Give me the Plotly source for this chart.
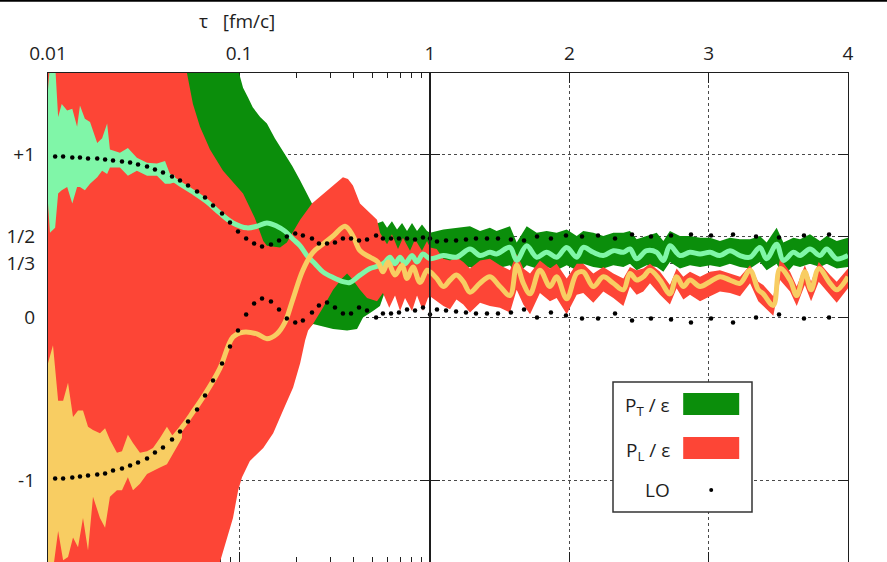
import plotly.graph_objects as go

# ---------------- P_T / eps ----------------
# central curve, tau < 1 fm/c (log panel)
TAU_PT_EARLY = [0.0100, 0.0116, 0.0139, 0.0166, 0.0199, 0.0238, 0.0286, 0.0342, 0.0410, 0.0491,
                0.0574, 0.0680, 0.0795, 0.0930, 0.110, 0.124, 0.140, 0.158, 0.174, 0.192,
                0.209, 0.227, 0.250, 0.275, 0.311, 0.350, 0.381, 0.430, 0.485, 0.547,
                0.581, 0.617, 0.656, 0.697, 0.740, 0.805, 0.855, 0.919]
PT_MID_EARLY = [1.00, 1.00, 1.01, 1.00, 0.98, 0.97, 0.95, 0.92, 0.88, 0.82,
                0.77, 0.71, 0.64, 0.58, 0.55, 0.56, 0.58, 0.56, 0.53, 0.48,
                0.44, 0.38, 0.33, 0.28, 0.245, 0.22, 0.215, 0.26, 0.30, 0.32,
                0.34, 0.37, 0.33, 0.37, 0.33, 0.38, 0.34, 0.39]

# tau >= 1 fm/c (linear panel): central curve and band edges
TAU_PT_LATE = [1.0, 1.096, 1.19, 1.287, 1.359, 1.43, 1.478, 1.574, 1.622, 1.694,
               1.766, 1.837, 1.909, 1.981, 2.053, 2.10, 2.172, 2.244, 2.316, 2.388,
               2.435, 2.483, 2.555, 2.627, 2.675, 2.722, 2.794, 2.866, 2.938, 3.01,
               3.081, 3.153, 3.225, 3.297, 3.368, 3.416, 3.488, 3.536, 3.608, 3.656,
               3.727, 3.799, 3.847, 3.919, 4.0]
PT_MID_LATE = [0.36, 0.38, 0.37, 0.42, 0.38, 0.40, 0.39, 0.43, 0.35, 0.44,
               0.37, 0.40, 0.37, 0.43, 0.37, 0.43, 0.40, 0.38, 0.41, 0.40,
               0.42, 0.36, 0.41, 0.40, 0.35, 0.44, 0.38, 0.40, 0.39, 0.40,
               0.38, 0.41, 0.38, 0.37, 0.43, 0.36, 0.45, 0.35, 0.40, 0.38,
               0.42, 0.38, 0.42, 0.36, 0.38]
PT_HI_LATE = [0.52, 0.54, 0.55, 0.56, 0.53, 0.55, 0.53, 0.56, 0.46, 0.56,
              0.52, 0.53, 0.52, 0.54, 0.50, 0.53, 0.52, 0.50, 0.52, 0.52,
              0.53, 0.48, 0.50, 0.52, 0.47, 0.53, 0.50, 0.50, 0.49, 0.49,
              0.47, 0.49, 0.48, 0.48, 0.50, 0.46, 0.55, 0.46, 0.49, 0.48,
              0.51, 0.47, 0.50, 0.47, 0.49]
PT_LO_LATE = [0.30, 0.31, 0.29, 0.31, 0.28, 0.30, 0.30, 0.32, 0.26, 0.32,
              0.30, 0.31, 0.29, 0.32, 0.29, 0.33, 0.31, 0.30, 0.32, 0.31,
              0.33, 0.29, 0.32, 0.31, 0.28, 0.34, 0.30, 0.32, 0.31, 0.32,
              0.31, 0.33, 0.31, 0.30, 0.34, 0.29, 0.33, 0.25, 0.32, 0.31,
              0.33, 0.31, 0.33, 0.30, 0.31]

# band edges for tau < 1
TAU_PT_HI_EARLY = [0.01, 0.099, 0.100, 0.105, 0.1115, 0.118, 0.129, 0.140, 0.154, 0.170,
                   0.190, 0.209, 0.224, 0.241, 0.282, 0.359, 0.457, 0.534, 0.567, 0.596,
                   0.632, 0.672, 0.714, 0.758, 0.805, 0.855, 0.908, 0.965]
PT_HI_EARLY = [1.6, 1.6, 1.50, 1.41, 1.35, 1.29, 1.23, 1.19, 1.10, 1.02,
               0.93, 0.84, 0.77, 0.70, 0.63, 0.57, 0.55, 0.58, 0.59, 0.55,
               0.59, 0.54, 0.58, 0.53, 0.58, 0.53, 0.57, 0.53]
TAU_PT_LO_EARLY = [0.01, 0.07, 0.099, 0.129, 0.170, 0.209, 0.244, 0.311, 0.368, 0.415,
                   0.446, 0.503, 0.547, 0.581, 0.656, 0.786, 0.942]
PT_LO_EARLY = [-1.6, -1.4, -0.95, -0.6, -0.35, -0.12, -0.04, -0.07, -0.08, -0.07,
               0.0, 0.04, 0.07, 0.16, 0.24, 0.28, 0.30]

# early-time fluctuations of the central curve
TAU_PT_NOISE = [0.0100, 0.01024, 0.0109, 0.0113, 0.0118, 0.0126, 0.0134, 0.0142, 0.0147, 0.0156,
                0.0166, 0.0181, 0.0192, 0.0204, 0.0211, 0.0238, 0.0262, 0.0292, 0.0330, 0.0372,
                0.0410, 0.0435, 0.0462]
PT_NOISE_HI = [1.40, 1.55, 1.55, 1.23, 1.31, 1.27, 1.28, 1.17, 1.30, 1.22,
               1.20, 1.07, 1.10, 1.19, 1.03, 1.01, 1.04, 0.98, 0.95, 0.945,
               0.96, 0.88, 0.87]
PT_NOISE_LO = [0.70, 0.52, 0.55, 0.76, 0.78, 0.80, 0.70, 0.80, 0.80, 0.78,
               0.82, 0.86, 0.90, 0.88, 0.92, 0.92, 0.87, 0.90, 0.87, 0.87,
               0.82, 0.82, 0.83]

# ---------------- P_L / eps ----------------
TAU_PL_EARLY = [0.0100, 0.0116, 0.0139, 0.0166, 0.0199, 0.0238, 0.0286, 0.0342, 0.0410, 0.0491,
                0.0574, 0.0680, 0.0795, 0.0930, 0.105, 0.124, 0.140, 0.158, 0.174, 0.190,
                0.216, 0.244, 0.275, 0.311, 0.359, 0.395, 0.430, 0.485, 0.534, 0.567,
                0.603, 0.656, 0.714, 0.758, 0.815, 0.886, 0.965]
PL_MID_EARLY = [-0.99, -0.98, -0.975, -0.963, -0.951, -0.926, -0.89, -0.847, -0.79, -0.69,
                -0.58, -0.45, -0.31, -0.12, -0.09, -0.10, -0.13, -0.10, -0.03, 0.10,
                0.29, 0.40, 0.45, 0.50, 0.56, 0.50, 0.41, 0.37, 0.34, 0.28,
                0.34, 0.26, 0.32, 0.24, 0.31, 0.215, 0.29]

TAU_PL_LATE = [1.0, 1.048, 1.096, 1.144, 1.19, 1.239, 1.287, 1.359, 1.43, 1.502,
               1.574, 1.622, 1.67, 1.718, 1.789, 1.861, 1.909, 1.981, 2.053, 2.10,
               2.172, 2.244, 2.316, 2.388, 2.435, 2.483, 2.531, 2.579, 2.651, 2.722,
               2.77, 2.818, 2.866, 2.938, 3.01, 3.081, 3.153, 3.225, 3.297, 3.356,
               3.392, 3.464, 3.512, 3.584, 3.632, 3.69, 3.735, 3.79, 3.871, 3.919, 4.0]
PL_MID_LATE = [0.28, 0.24, 0.19, 0.23, 0.26, 0.22, 0.155, 0.21, 0.25, 0.19,
               0.135, 0.32, 0.21, 0.145, 0.29, 0.19, 0.25, 0.115, 0.27, 0.28,
               0.19, 0.25, 0.21, 0.17, 0.27, 0.23, 0.25, 0.29, 0.23, 0.145,
               0.25, 0.19, 0.23, 0.19, 0.22, 0.25, 0.23, 0.21, 0.29, 0.17,
               0.145, 0.074, 0.30, 0.23, 0.135, 0.28, 0.17, 0.30, 0.21, 0.17, 0.25]
PL_HI_LATE = [0.43, 0.42, 0.36, 0.35, 0.37, 0.34, 0.30, 0.35, 0.36, 0.32,
              0.29, 0.39, 0.30, 0.27, 0.35, 0.30, 0.33, 0.24, 0.33, 0.33,
              0.27, 0.31, 0.27, 0.24, 0.31, 0.29, 0.30, 0.33, 0.28, 0.20,
              0.30, 0.25, 0.28, 0.25, 0.28, 0.29, 0.27, 0.25, 0.32, 0.22,
              0.20, 0.13, 0.36, 0.28, 0.19, 0.32, 0.22, 0.34, 0.26, 0.22, 0.30]
PL_LO_LATE = [0.13, 0.10, 0.07, 0.05, 0.11, 0.08, 0.03, 0.09, 0.07, 0.06,
              0.03, 0.17, 0.08, 0.02, 0.15, 0.10, 0.12, 0.02, 0.14, 0.15,
              0.09, 0.16, 0.12, 0.07, 0.19, 0.14, 0.16, 0.21, 0.14, 0.08,
              0.18, 0.11, 0.14, 0.10, 0.13, 0.16, 0.15, 0.13, 0.21, 0.10,
              0.07, 0.01, 0.23, 0.16, 0.07, 0.20, 0.10, 0.22, 0.14, 0.09, 0.18]

TAU_PL_HI_EARLY = [0.01, 0.0522, 0.0534, 0.0574, 0.0625, 0.0705, 0.0825, 0.101, 0.105, 0.121,
                   0.134, 0.140, 0.164, 0.178, 0.209, 0.241, 0.289, 0.350, 0.372, 0.395,
                   0.430, 0.485, 0.528, 0.547, 0.596, 0.632, 0.680, 0.722, 0.786, 0.835,
                   0.908, 0.965]
PL_HI_EARLY = [1.6, 1.6, 1.50, 1.31, 1.17, 1.03, 0.90, 0.78, 0.76, 0.61,
               0.47, 0.44, 0.43, 0.46, 0.60, 0.70, 0.78, 0.86, 0.85, 0.81,
               0.70, 0.64, 0.60, 0.52, 0.45, 0.51, 0.42, 0.49, 0.41, 0.48,
               0.41, 0.47]
TAU_PL_LO_EARLY = [0.01, 0.075, 0.0795, 0.0865, 0.093, 0.099, 0.1037, 0.114, 0.134, 0.151,
                   0.170, 0.192, 0.209, 0.222, 0.230, 0.244, 0.275, 0.311, 0.346, 0.368,
                   0.395, 0.430, 0.468, 0.528, 0.567, 0.612, 0.656, 0.697, 0.740, 0.805,
                   0.855, 0.919, 0.976]
PL_LO_EARLY = [-1.6, -1.6, -1.49, -1.35, -1.23, -1.06, -0.98, -0.88, -0.80, -0.71,
               -0.57, -0.43, -0.28, -0.14, -0.08, -0.04, 0.06, 0.17, 0.24, 0.27,
               0.23, 0.17, 0.12, 0.10, 0.15, 0.06, 0.135, 0.04, 0.12, 0.04,
               0.135, 0.04, 0.12]

TAU_PL_NOISE = [0.0100, 0.01062, 0.0113, 0.0120, 0.01273, 0.01352, 0.01436, 0.01525, 0.0162, 0.0172,
                0.01871, 0.0199, 0.0211, 0.02296, 0.0244, 0.0262, 0.02786, 0.0303, 0.0330, 0.03545,
                0.03857, 0.04195, 0.04514, 0.0503]
PL_NOISE_HI = [-0.28, -0.17, -0.51, -0.51, -0.40, -0.61, -0.57, -0.57, -0.67, -0.69,
               -0.71, -0.68, -0.75, -0.83, -0.82, -0.72, -0.77, -0.83, -0.82, -0.80,
               -0.74, -0.67, -0.73, -0.65]
PL_NOISE_LO = [-1.55, -1.55, -1.31, -1.49, -1.47, -1.35, -1.41, -1.23, -1.43, -1.10,
               -1.23, -1.29, -1.10, -1.06, -1.06, -0.98, -1.06, -1.02, -0.96, -0.94,
               -0.92, -0.90, -0.84, -0.74]

# ---------------- leading order (LO) ----------------
TAU_LO = [0.0109, 0.0120, 0.0134, 0.0147, 0.0162, 0.0181, 0.0199, 0.0219, 0.0244, 0.0269,
          0.0296, 0.0330, 0.0363, 0.0400, 0.0446, 0.0491, 0.0541, 0.0603, 0.0664, 0.0731,
          0.0815, 0.0897, 0.0988, 0.109, 0.120, 0.132, 0.147, 0.162, 0.178, 0.197,
          0.216, 0.241, 0.262, 0.289, 0.318, 0.350, 0.386, 0.425, 0.468, 0.522,
          0.567, 0.625, 0.688, 0.758, 0.835, 0.919, 1.0,
          1.050, 1.115, 1.187, 1.258, 1.330, 1.409, 1.488, 1.581, 1.675, 1.768,
          1.868, 1.976, 2.091, 2.206, 2.328, 2.450, 2.586, 2.730, 2.873, 3.017,
          3.175, 3.340, 3.505, 3.684, 3.864]
LO_T = [0.988, 0.988, 0.982, 0.982, 0.975, 0.975, 0.969, 0.963, 0.957, 0.951,
        0.939, 0.926, 0.908, 0.890, 0.865, 0.840, 0.810, 0.773, 0.736, 0.687,
        0.638, 0.583, 0.528, 0.485, 0.454, 0.436, 0.448, 0.472, 0.497, 0.515,
        0.503, 0.485, 0.454, 0.454, 0.460, 0.485, 0.485, 0.472, 0.479, 0.503,
        0.485, 0.485, 0.485, 0.485, 0.479, 0.491, 0.485,
        0.466, 0.472, 0.472, 0.479, 0.485, 0.485, 0.485, 0.479, 0.472, 0.497,
        0.485, 0.503, 0.497, 0.503, 0.485, 0.509, 0.497, 0.503, 0.509, 0.503,
        0.509, 0.497, 0.491, 0.503, 0.509]
LO_L = [-0.988, -0.988, -0.982, -0.975, -0.969, -0.963, -0.957, -0.939, -0.926, -0.908,
        -0.890, -0.865, -0.828, -0.798, -0.748, -0.699, -0.638, -0.564, -0.479, -0.387,
        -0.282, -0.178, -0.080, 0.018, 0.086, 0.117, 0.098, 0.049, -0.006, -0.031,
        -0.018, 0.031, 0.074, 0.092, 0.061, 0.025, 0.025, 0.061, 0.043, 0.000,
        0.025, 0.025, 0.031, 0.049, 0.043, 0.061, 0.018,
        0.049, 0.043, 0.037, 0.031, 0.025, 0.025, 0.025, 0.031, 0.049, 0.000,
        0.031, 0.012, -0.006, -0.006, 0.025, -0.018, -0.006, -0.012, -0.031, -0.006,
        -0.031, 0.000, 0.018, -0.006, 0.000]

# ---------------- axes ----------------
Y_TICKS = [1, 0.5, 1 / 3, 0, -1]
Y_TICK_TEXT = ["+1", "1/2", "1/3", "0", "-1"]
X_LOG_TICKS = [0.01, 0.1, 1]
X_LOG_TEXT = ["0.01", "0.1", "1"]
X_LOG_MINOR = [0.02, 0.03, 0.04, 0.05, 0.06, 0.07, 0.08, 0.09,
               0.2, 0.3, 0.4, 0.5, 0.6, 0.7, 0.8, 0.9]
X_LIN_TICKS = [2, 3, 4]

GREEN = "#0b8e0b"
RED = "#fd4536"
LIGHT_GREEN = "#80f6a8"
YELLOW = "#f8cd62"
INK = "#1e1e1e"

pt_mid_tau = TAU_PT_EARLY + TAU_PT_LATE
pt_mid = PT_MID_EARLY + PT_MID_LATE
pt_hi_tau = TAU_PT_HI_EARLY + TAU_PT_LATE
pt_hi = PT_HI_EARLY + PT_HI_LATE
pt_lo_tau = TAU_PT_LO_EARLY + TAU_PT_LATE
pt_lo = PT_LO_EARLY + PT_LO_LATE

pl_mid_tau = TAU_PL_EARLY + TAU_PL_LATE
pl_mid = PL_MID_EARLY + PL_MID_LATE
pl_hi_tau = TAU_PL_HI_EARLY + TAU_PL_LATE
pl_hi = PL_HI_EARLY + PL_HI_LATE
pl_lo_tau = TAU_PL_LO_EARLY + TAU_PL_LATE
pl_lo = PL_LO_EARLY + PL_LO_LATE


def band(tau_hi, hi, tau_lo, lo, color):
    return dict(x=list(tau_hi) + list(tau_lo)[::-1],
                y=list(hi) + list(lo)[::-1],
                mode="lines", fill="toself", fillcolor=color,
                line=dict(width=0), hoverinfo="skip")


def curve(tau, val, color):
    return dict(x=tau, y=val, mode="lines",
                line=dict(color=color, width=5, shape="spline", smoothing=1.0),
                hoverinfo="skip")


def dots(tau, val):
    return dict(x=tau, y=val, mode="markers",
                marker=dict(color="black", size=4.5), hoverinfo="skip")


layers = [
    band(pt_hi_tau, pt_hi, pt_lo_tau, pt_lo, GREEN),
    band(pl_hi_tau, pl_hi, pl_lo_tau, pl_lo, RED),
    band(TAU_PT_NOISE, PT_NOISE_HI, TAU_PT_NOISE, PT_NOISE_LO, LIGHT_GREEN),
    band(TAU_PL_NOISE, PL_NOISE_HI, TAU_PL_NOISE, PL_NOISE_LO, YELLOW),
    curve(pt_mid_tau, pt_mid, LIGHT_GREEN),
    curve(pl_mid_tau, pl_mid, YELLOW),
    dots(TAU_LO, LO_T),
    dots(TAU_LO, LO_L),
]

fig = go.Figure()
# every layer goes into both panels: log time axis (tau < 1) and linear (tau > 1)
for spec in layers:
    for xa, ya in (("x", "y"), ("x2", "y2")):
        fig.add_trace(go.Scatter(**spec, xaxis=xa, yaxis=ya, showlegend=False))

common_axis = dict(
    ticks="inside", ticklen=10, tickwidth=1, tickcolor=INK,
    showline=True, linecolor=INK, linewidth=1.2, mirror="ticks",
    showgrid=True, gridcolor="#4a4a4a", gridwidth=1, griddash="dot",
    zeroline=False, layer="below traces",
    tickfont=dict(family="Open Sans", size=19, color=INK),
)

fig.update_layout(
    width=887, height=562,
    margin=dict(l=48, r=39, t=73, b=0),
    paper_bgcolor="white", plot_bgcolor="white",
    showlegend=False,
    xaxis=dict(common_axis, type="log", domain=[0, 0.4775], range=[-2, 0],
               side="top", anchor="y", tickmode="array",
               tickvals=X_LOG_TICKS, ticktext=X_LOG_TEXT, ticklabelstandoff=4,
               minor=dict(tickmode="array", tickvals=X_LOG_MINOR, ticks="inside",
                          ticklen=5, tickcolor=INK, showgrid=False)),
    xaxis2=dict(common_axis, domain=[0.4775, 1], range=[1, 4],
                side="top", anchor="y2", tickmode="array",
                tickvals=X_LIN_TICKS, ticktext=[str(v) for v in X_LIN_TICKS],
                ticklabelstandoff=4),
    yaxis=dict(common_axis, domain=[0, 1], range=[-1.5, 1.5], anchor="x",
               tickmode="array", tickvals=Y_TICKS, ticktext=Y_TICK_TEXT,
               ticklabelstandoff=8),
    yaxis2=dict(common_axis, domain=[0, 1], range=[-1.5, 1.5], anchor="x2",
                matches="y", tickmode="array", tickvals=Y_TICKS,
                showticklabels=False),
)

# panel divider at tau = 1 and the rule across the top of the page
fig.add_shape(type="line", xref="x2", yref="y2", x0=1, x1=1, y0=-1.5, y1=1.5,
              line=dict(color=INK, width=1.5), layer="above")
fig.add_shape(type="line", xref="paper", yref="paper", x0=-0.07, x1=1.06,
              y0=1.148, y1=1.148, line=dict(color="black", width=2), layer="above")

# axis title
fig.add_annotation(text="τ\u00a0\u00a0\u00a0[fm/c]", xref="paper", yref="paper",
                   x=0.236, y=1.106, xanchor="center", yanchor="middle", showarrow=False,
                   font=dict(family="Open Sans", size=19, color=INK))

# legend box
fig.add_shape(type="rect", xref="paper", yref="paper", x0=0.70625, x1=0.88,
              y0=0.1023, y1=0.3681, fillcolor="white",
              line=dict(color="#333", width=1.5), layer="above")
fig.add_shape(type="rect", xref="paper", yref="paper", x0=0.794, x1=0.864,
              y0=0.3006, y1=0.3456, fillcolor=GREEN, line=dict(width=0), layer="above")
fig.add_shape(type="rect", xref="paper", yref="paper", x0=0.794, x1=0.864,
              y0=0.2106, y1=0.2556, fillcolor=RED, line=dict(width=0), layer="above")
fig.add_shape(type="circle", xref="paper", yref="paper", x0=0.8265, x1=0.8315,
              y0=0.1431, y1=0.1513, fillcolor="black", line=dict(width=0), layer="above")
for label, ypos in (("P<sub>T</sub> / ε", 0.318), ("P<sub>L</sub> / ε", 0.228), ("LO", 0.147)):
    fig.add_annotation(text=label, xref="paper", yref="paper", x=0.78, y=ypos,
                       xanchor="right", yanchor="middle", showarrow=False,
                       font=dict(family="Open Sans", size=19, color=INK))

fig.write_html("out.html")
